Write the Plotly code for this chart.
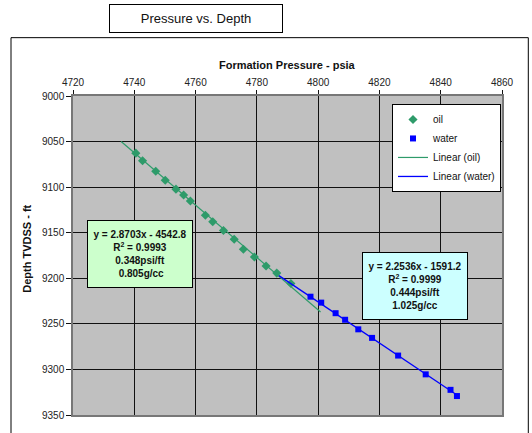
import plotly.graph_objects as go

# ---- data ----
oil_pressure = [4740.5, 4742.7, 4747.0, 4750.1, 4753.6, 4756.1, 4758.3, 4763.2,
                4765.6, 4769.1, 4772.6, 4775.6, 4779.2, 4783.0, 4786.5, 4791.1]
oil_depth = [9062.7, 9071.0, 9082.6, 9092.4, 9102.2, 9108.7, 9115.2, 9130.8,
             9137.9, 9147.5, 9157.1, 9168.1, 9176.6, 9186.5, 9194.3, 9205.7]

water_pressure = [4797.5, 4801.0, 4805.7, 4808.8, 4813.1, 4817.6, 4826.1, 4835.1, 4843.2, 4845.3]
water_depth = [9220.2, 9226.7, 9238.3, 9245.5, 9256.0, 9265.4, 9284.8, 9305.4, 9322.4, 9329.2]

oil_trend_pressure = [4735.7, 4800.8]
oil_trend_depth = [9050.0, 9236.9]
water_trend_pressure = [4787.2, 4845.3]
water_trend_depth = [9197.1, 9328.1]

x_ticks = [4720, 4740, 4760, 4780, 4800, 4820, 4840, 4860]
y_ticks = [9000, 9050, 9100, 9150, 9200, 9250, 9300, 9350]

oil_label = ["y = 2.8703x - 4542.8", "R<sup>2</sup> = 0.9993", "0.348psi/ft", " 0.805g/cc"]
water_label = ["y = 2.2536x - 1591.2", "R<sup>2</sup> = 0.9999", "0.444psi/ft", "1.025g/cc"]

FONT = "Liberation Sans, Arial, sans-serif"
GREEN = "#2E9B6A"
BLUE = "#0000FF"

W, H = 532, 433
ML, MR, MT, MB = 73, 30, 96, 16
PW = W - ML - MR
PH = H - MT - MB


def px(x):
    return (x - ML) / PW


def py(y):
    return (H - MB - y) / PH


fig = go.Figure()
fig.add_trace(go.Scatter(x=oil_pressure, y=oil_depth, mode="markers", name="oil",
                         marker=dict(symbol="diamond", size=7, color=GREEN)))
fig.add_trace(go.Scatter(x=water_pressure, y=water_depth, mode="markers", name="water",
                         marker=dict(symbol="square", size=6, color=BLUE)))
fig.add_trace(go.Scatter(x=oil_trend_pressure, y=oil_trend_depth, mode="lines", name="Linear (oil)",
                         line=dict(color=GREEN, width=1.2)))
fig.add_trace(go.Scatter(x=water_trend_pressure, y=water_trend_depth, mode="lines", name="Linear (water)",
                         line=dict(color=BLUE, width=1.3)))

fig.update_layout(
    width=W, height=H,
    margin=dict(l=ML, r=MR, t=MT, b=MB, pad=0),
    paper_bgcolor="white",
    plot_bgcolor="#C0C0C0",
    font=dict(family=FONT, size=10, color="#222"),
    showlegend=True,
    legend=dict(x=px(392), y=py(104), xanchor="left", yanchor="top",
                bgcolor="white", bordercolor="black", borderwidth=1,
                font=dict(family=FONT, size=10, color="#111"),
                itemwidth=30, tracegroupgap=0),
    xaxis=dict(side="top", range=[4720, 4860], tickvals=x_ticks,
               ticktext=[str(v) for v in x_ticks],
               showgrid=True, gridcolor="#111", gridwidth=1.3,
               showline=True, mirror=True, linecolor="#777", linewidth=1.5,
               ticks="outside", ticklen=4, tickcolor="#111",
               zeroline=False, tickfont=dict(size=10, color="#222")),
    yaxis=dict(range=[9350, 9000], tickvals=y_ticks,
               ticktext=[str(v) for v in y_ticks],
               showgrid=True, gridcolor="#111", gridwidth=1.3,
               showline=True, mirror=True, linecolor="#777", linewidth=1.5,
               ticks="outside", ticklen=5, tickcolor="#111",
               zeroline=False, tickfont=dict(size=10, color="#222")),
)

# outer chart frame
fig.add_shape(type="rect", xref="paper", yref="paper",
              x0=px(11), x1=px(528.3), y0=py(445), y1=py(37.3),
              line=dict(color="black", width=1), fillcolor="rgba(0,0,0,0)", layer="above")

annotations = [
    dict(text="Pressure vs. Depth", xref="paper", yref="paper", x=px(195.5), y=py(17.8),
         xanchor="center", yanchor="middle", showarrow=False,
         font=dict(family=FONT, size=13, color="#111"),
         bgcolor="white", bordercolor="black", borderwidth=1, borderpad=0,
         width=172, height=27),
    dict(text="<b>Formation Pressure - psia</b>", xref="paper", yref="paper", x=0.5, y=py(65),
         xanchor="center", yanchor="middle", showarrow=False,
         font=dict(family=FONT, size=11, color="#111")),
    dict(text="<b>Depth TVDSS - ft</b>", xref="paper", yref="paper", x=px(26.7), y=py(250),
         xanchor="center", yanchor="middle", showarrow=False, textangle=-90,
         font=dict(family=FONT, size=11, color="#111")),
    dict(text="<b>" + "<br>".join(oil_label) + "</b>", xref="paper", yref="paper",
         x=px(139.7), y=py(255), xanchor="center", yanchor="middle", showarrow=False,
         font=dict(family=FONT, size=10, color="#111"), align="center",
         bgcolor="#CCFFCC", bordercolor="black", borderwidth=1, borderpad=1,
         width=102, height=64),
    dict(text="<b>" + "<br>".join(water_label) + "</b>", xref="paper", yref="paper",
         x=px(415.3), y=py(286.7), xanchor="center", yanchor="middle", showarrow=False,
         font=dict(family=FONT, size=10, color="#111"), align="center",
         bgcolor="#CCFFFF", bordercolor="black", borderwidth=1, borderpad=1,
         width=102, height=64),
]
fig.update_layout(annotations=annotations)

fig.write_html("out.html")
